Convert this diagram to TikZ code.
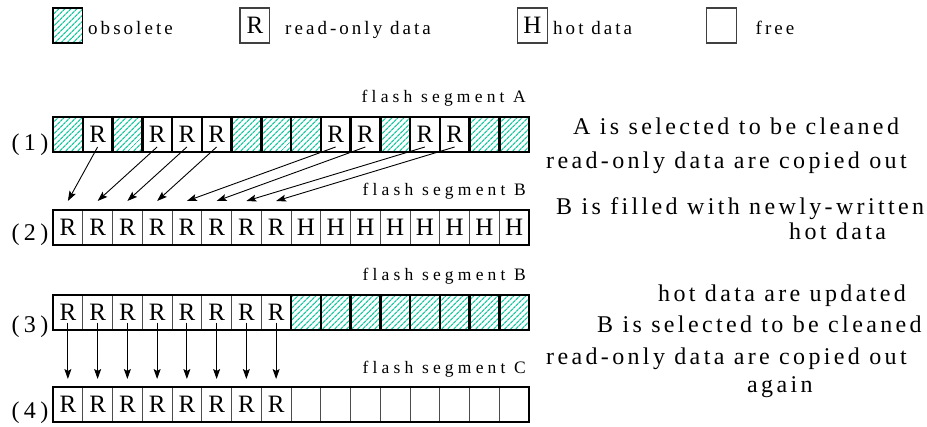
\documentclass[tikz,border=0pt]{standalone}
\usepackage{fontspec}
\setmainfont{Liberation Serif}
\usetikzlibrary{patterns.meta,arrows.meta}
\definecolor{hatch}{RGB}{20,200,160}
\newcommand\legfont{\fontsize{19}{22}\selectfont\addfontfeatures{LetterSpace=16}}
\newcommand\segfont{\fontsize{17.5}{20}\selectfont\addfontfeatures{LetterSpace=24}}
\newcommand\descfont{\fontsize{24}{28}\selectfont\addfontfeatures{LetterSpace=14}}
\newcommand\rowfont{\fontsize{24}{28}\selectfont\addfontfeatures{LetterSpace=18}}
\newcommand\cellfont{\fontsize{25}{25}\selectfont}
\begin{document}
\begin{tikzpicture}[x=1pt,y=-1pt,
  base/.style={minimum width=29.75pt, minimum height=35pt, inner sep=0pt, outer sep=0pt, anchor=north west},
  thin/.style={base, draw=black!70, line width=1pt},
  thk/.style={base, draw=black, line width=2.5pt},
  hatchfill/.style={pattern={Lines[angle=45,distance=4pt,line width=1.3pt]}, pattern color=hatch},
  lbl/.style={font=\cellfont, inner sep=0pt},
  O/.style={thk, hatchfill},
  R/.style={thin, label={[lbl]center:R}},
  RT/.style={thk, label={[lbl]center:R}},
  H/.style={thin, label={[lbl]center:H}},
  F/.style={thin},
  legbox/.style={base, draw=black!75, line width=1.2pt},
  outer/.style={draw=black, line width=2.8pt},
  arr/.style={-{Stealth[length=10pt,width=7pt,inset=2pt]}, line width=0.9pt},
  legtxt/.style={font=\legfont, anchor=base west, inner sep=0pt},
  segtxt/.style={font=\segfont, anchor=base east, inner sep=0pt},
  desc/.style={font=\descfont, anchor=base west, inner sep=0pt},
  rowtxt/.style={font=\rowfont, anchor=base west, inner sep=0pt}
]
\useasboundingbox (0,0) rectangle (927,427);

% legend
\node[legbox, hatchfill, draw=black] (lo) at (53,8) {};
\node[legtxt] (to) at (88,35) {obsolete};
\node[legbox, label={[lbl]center:R}] (lr) at (240,8) {};
\node[legtxt] (tr) at (285,35) {read-only data};
\node[legbox, label={[lbl]center:H}] (lh) at (517.6,8) {};
\node[legtxt] (th) at (553,35) {hot data};
\node[legbox] (lf) at (706.6,8) {};
\node[legtxt] (tf) at (755.5,35) {free};

% row 1
\foreach \t [count=\n from 0] in {O,RT,O,RT,RT,RT,O,O,O,RT,RT,O,RT,RT,O,O}
  \node[\t] (a\n) at (53+29.75*\n,117) {};
\draw[outer] (a0.north west) rectangle (a15.south east);
% row 2
\foreach \t [count=\n from 0] in {R,R,R,R,R,R,R,R,H,H,H,H,H,H,H,H}
  \node[\t] (b\n) at (53+29.75*\n,210) {};
\draw[outer] (b0.north west) rectangle (b15.south east);
% row 3
\foreach \t [count=\n from 0] in {R,R,R,R,R,R,R,R,O,O,O,O,O,O,O,O}
  \node[\t] (c\n) at (53+29.75*\n,295) {};
\draw[outer] (c0.north west) rectangle (c15.south east);
% row 4
\foreach \t [count=\n from 0] in {R,R,R,R,R,R,R,R,F,F,F,F,F,F,F,F}
  \node[\t] (d\n) at (53+29.75*\n,387) {};
\draw[outer] (d0.north west) rectangle (d15.south east);

% row labels
\node[rowtxt] (l1) at (11.5,151) {(1)};
\node[rowtxt] (l2) at (11.5,241) {(2)};
\node[rowtxt] (l3) at (11.5,333) {(3)};
\node[rowtxt] (l4) at (11.5,419) {(4)};

% segment labels
\node[segtxt] (sA) at (526,103) {flash segment A};
\node[segtxt] (sB1) at (526,196) {flash segment B};
\node[segtxt] (sB2) at (526,281) {flash segment B};
\node[segtxt] (sC) at (526,374) {flash segment C};

% arrows
\foreach \s/\d in {1/0,3/1,4/2,5/3,9/4,10/5,12/6,13/7}
  \draw[arr] ([yshift=5pt]a\s.south) -- ([yshift=9pt]b\d.north);
\foreach \i in {0,...,7}
  \draw[arr] ([yshift=7pt]c\i.south) -- ([yshift=8pt]d\i.north);

% descriptions
\node[desc] (e1) at (573,135) {A is selected to be cleaned};
\node[desc] (e2) at (546,169) {read-only data are copied out};
\node[desc] (e3) at (556,215) {B is filled with newly-written};
\node[desc] (e4) at (789,240) {hot data};
\node[desc] (e5) at (658,302) {hot data are updated};
\node[desc] (e6) at (597,333) {B is selected to be cleaned};
\node[desc] (e7) at (546,365) {read-only data are copied out};
\node[desc] (e8) at (747,393) {again};
\end{tikzpicture}
\end{document}
